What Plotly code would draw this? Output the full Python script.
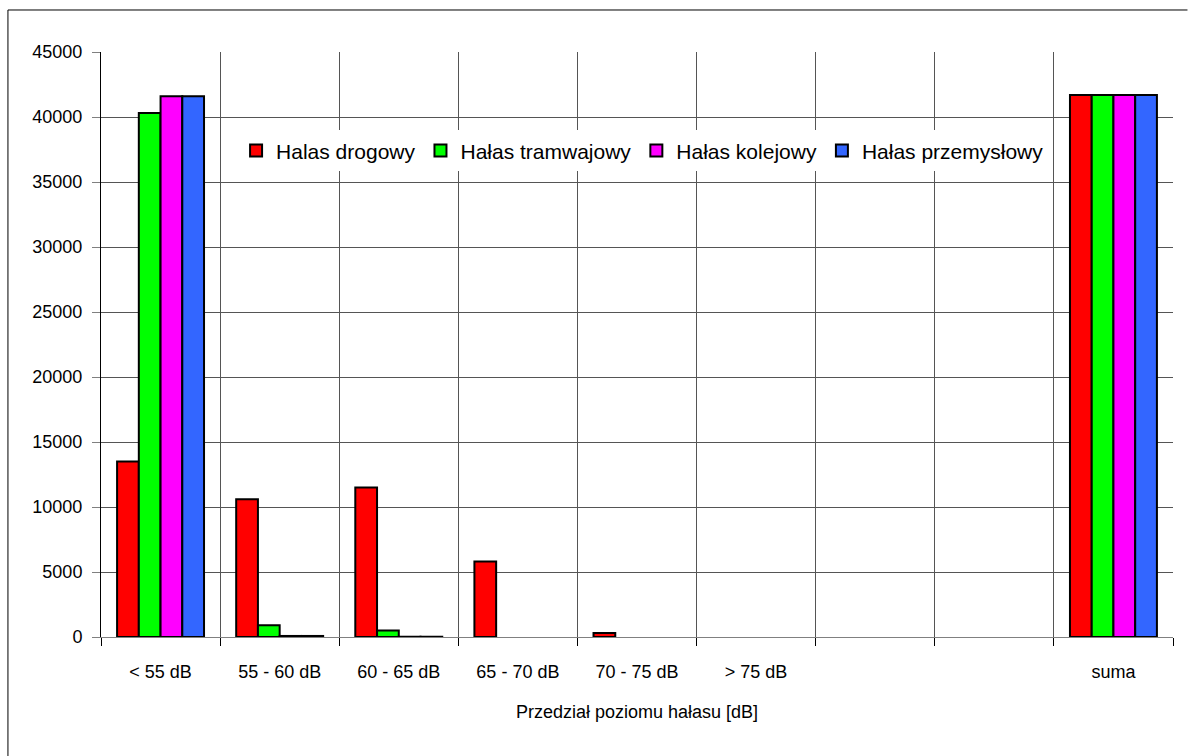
import plotly.graph_objects as go

# Noise level bands (two empty slots before the total column)
categories = ["< 55 dB", "55 - 60 dB", "60 - 65 dB", "65 - 70 dB",
              "70 - 75 dB", "> 75 dB", "", "", "suma"]

halas_drogowy = [13500, 10600, 11500, 5800, 300, 0, 0, 0, 41700]
halas_tramwajowy = [40300, 900, 500, 0, 0, 0, 0, 0, 41700]
halas_kolejowy = [41600, 80, 20, 0, 0, 0, 0, 0, 41700]
halas_przemyslowy = [41600, 80, 20, 0, 0, 0, 0, 0, 41700]

series = [
    ("Halas drogowy", halas_drogowy, "#FF0000"),
    ("Hałas tramwajowy", halas_tramwajowy, "#00FF00"),
    ("Hałas kolejowy", halas_kolejowy, "#FF00FF"),
    ("Hałas przemysłowy", halas_przemyslowy, "#3366FF"),
]

y_ticks = list(range(0, 45001, 5000))
y_tick_labels = [str(v) for v in y_ticks]

positions = list(range(len(categories)))
boundaries = [p - 0.5 for p in positions] + [positions[-1] + 0.5]

fig = go.Figure()
for name, values, color in series:
    # empty cells are left out so no outline is drawn on the baseline
    fig.add_trace(go.Bar(
        x=positions, y=[v if v else None for v in values], name=name,
        marker=dict(color=color, line=dict(color="#000000", width=2)),
    ))

FONT = "Liberation Sans, Arial, sans-serif"

fig.update_layout(
    width=1188, height=756,
    margin=dict(l=101, r=15, t=52, b=119),
    paper_bgcolor="white", plot_bgcolor="white",
    barmode="group", bargap=0.27, bargroupgap=0,
    font=dict(family=FONT, color="#000000", size=18),
    showlegend=True,
    legend=dict(
        orientation="h", x=0.126, y=0.866, xanchor="left", yanchor="top",
        bgcolor="white", borderwidth=0,
        font=dict(family=FONT, size=21, color="#000000"),
        traceorder="normal",
    ),
    xaxis=dict(
        range=[boundaries[0], boundaries[-1]],
        tickmode="array", tickvals=positions, ticktext=categories,
        ticks="", showgrid=False, zeroline=False,
        showline=True, linecolor="#808080", linewidth=1,
        tickfont=dict(size=18),
        ticklabelstandoff=18,
        minor=dict(tickmode="array", tickvals=boundaries, ticks="outside",
                   ticklen=8, tickcolor="#000000", showgrid=True,
                   gridcolor="#555555", gridwidth=1),
        title=dict(text="Przedział poziomu hałasu [dB]", font=dict(size=18),
                   standoff=24),
    ),
    yaxis=dict(
        range=[0, 45000], tickmode="array", tickvals=y_ticks,
        ticktext=y_tick_labels,
        ticks="outside", ticklen=8, tickcolor="#808080",
        showgrid=True, gridcolor="#555555", gridwidth=1,
        zeroline=False, showline=True, linecolor="#000000", linewidth=1,
        tickfont=dict(size=18), ticklabelstandoff=6,
    ),
    # outer frame: only its top and left edges fall inside the page
    shapes=[
        dict(type="line", xref="paper", yref="paper",
             x0=-0.0868, x1=1.0135, y0=1.0718, y1=1.0718,
             line=dict(color="#000000", width=1), layer="below"),
        dict(type="line", xref="paper", yref="paper",
             x0=-0.0868, x1=-0.0868, y0=-0.2034, y1=1.0718,
             line=dict(color="#000000", width=1), layer="below"),
    ],
)

fig.write_html("out.html")
